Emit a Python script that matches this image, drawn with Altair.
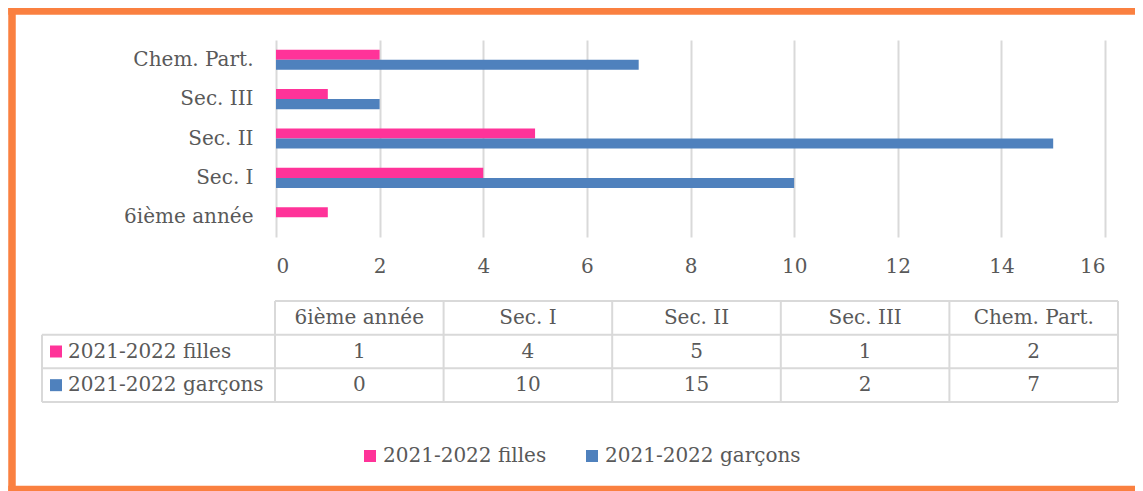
import altair as alt
import pandas as pd

# ---------------- data ----------------
categories = ["6ième année", "Sec. I", "Sec. II", "Sec. III", "Chem. Part."]
series = ["2021-2022 filles", "2021-2022 garçons"]
filles = [1, 4, 5, 1, 2]
garcons = [0, 10, 15, 2, 7]
x_ticks = [0, 2, 4, 6, 8, 10, 12, 14, 16]
colors = ["#FF3399", "#4F81BD"]

# ---------------- style / layout ----------------
FONT = "DejaVu Serif"
FS = 20
TXT = "#595959"
GRID = "#D9D9D9"
ORANGE = "#FA8040"

# plot area (svg coords; page = svg + 8)
PL, PT, PW, PH = 268, 32, 829, 197
SVG_W, SVG_H = 1127, 483

# table layout in pixels relative to plot origin
T_LEFT = -1          # first category column left edge
T_COLW = 168.6       # category column width
T_LAB = -234         # label column left edge
T_TOP, T_BOT = 261, 362
LAB_TXT = -208
LAB_SQ = -220

# frame (relative to plot origin)
FW = 7.5
F_LEFT, F_TOP, F_BOT = -264, -29, 449.5
F_RIGHT = SVG_W - PL


def tx(px):
    return (px - T_LEFT) / T_COLW


bars_df = pd.DataFrame({
    "cat": categories * 2,
    "serie": [series[0]] * len(categories) + [series[1]] * len(categories),
    "val": filles + garcons,
})

color_scale = alt.Scale(domain=series, range=colors)

bars = alt.Chart(bars_df).mark_bar().encode(
    x=alt.X("val:Q", scale=alt.Scale(domain=[0, 16], nice=False),
            axis=alt.Axis(values=x_ticks, grid=True, gridColor=GRID, gridWidth=2,
                          domain=False, ticks=False, tickSize=0, labelPadding=19,
                          labelFont=FONT, labelFontSize=FS, labelColor=TXT, title=None)),
    y=alt.Y("cat:N", sort=categories[::-1],
            scale=alt.Scale(paddingInner=0.49, paddingOuter=0.245),
            axis=alt.Axis(domain=False, ticks=False, tickSize=0, labelPadding=23,
                          labelFont=FONT, labelFontSize=FS, labelColor=TXT, title=None)),
    yOffset=alt.YOffset("serie:N", sort=series),
    color=alt.Color("serie:N", sort=series, scale=color_scale,
                    legend=alt.Legend(orient="none", legendX=84, legendY=406,
                                      direction="horizontal", title=None,
                                      symbolType="square", symbolSize=144,
                                      symbolStrokeWidth=0, labelFont=FONT,
                                      labelFontSize=FS, labelColor=TXT,
                                      columnPadding=35, labelOffset=3, padding=0,
                                      labelLimit=0)),
)

# ---------------- data table ----------------
ncol = len(categories)
xs = alt.Scale(domain=[0, ncol], range=[T_LEFT, T_LEFT + ncol * T_COLW], nice=False, zero=False)
ys = alt.Scale(domain=[0, 3], range=[T_TOP, T_BOT], nice=False, zero=False)

lab = tx(T_LAB)
rule_rows = []
rule_rows.append({"x": 0, "x2": ncol, "y": 0, "y2": 0})
for r in [1, 2, 3]:
    rule_rows.append({"x": lab, "x2": ncol, "y": r, "y2": r})
rule_rows.append({"x": lab, "x2": lab, "y": 1, "y2": 3})
for c in range(ncol + 1):
    rule_rows.append({"x": c, "x2": c, "y": 0, "y2": 3})
rules_df = pd.DataFrame(rule_rows)

rules = alt.Chart(rules_df).mark_rule(color=GRID, strokeWidth=2).encode(
    x=alt.X("x:Q", scale=xs, axis=None),
    x2="x2:Q",
    y=alt.Y("y:Q", scale=ys, axis=None),
    y2="y2:Q",
)

cell_rows = []
for i, c in enumerate(categories):
    cell_rows.append({"cx": i + 0.5, "cy": 0.5, "t": c})
    cell_rows.append({"cx": i + 0.5, "cy": 1.5, "t": str(filles[i])})
    cell_rows.append({"cx": i + 0.5, "cy": 2.5, "t": str(garcons[i])})
cells_df = pd.DataFrame(cell_rows)

cells = alt.Chart(cells_df).mark_text(font=FONT, fontSize=FS, color=TXT,
                                      align="center", baseline="middle").encode(
    x=alt.X("cx:Q", scale=xs, axis=None),
    y=alt.Y("cy:Q", scale=ys, axis=None),
    text="t:N",
)

rowlab_df = pd.DataFrame({"cx": [tx(LAB_TXT)] * 2, "sq": [tx(LAB_SQ)] * 2,
                          "cy": [1.5, 2.5], "serie": series})

rowlabs = alt.Chart(rowlab_df).mark_text(font=FONT, fontSize=FS, color=TXT,
                                         align="left", baseline="middle").encode(
    x=alt.X("cx:Q", scale=xs, axis=None),
    y=alt.Y("cy:Q", scale=ys, axis=None),
    text="serie:N",
)

squares = alt.Chart(rowlab_df).mark_point(shape="square", filled=True, size=144,
                                          opacity=1, strokeWidth=0).encode(
    x=alt.X("sq:Q", scale=xs, axis=None),
    y=alt.Y("cy:Q", scale=ys, axis=None),
    color=alt.Color("serie:N", sort=series, scale=color_scale),
)

# ---------------- orange frame (top, left, bottom edges) ----------------
half = FW / 2
frame_top = alt.Chart(pd.DataFrame({"a": [0]})).mark_rule(
    color=ORANGE, strokeWidth=FW, strokeCap="butt"
).encode(x=alt.value(F_LEFT - half), x2=alt.value(F_RIGHT), y=alt.value(F_TOP))
frame_bot = alt.Chart(pd.DataFrame({"a": [0]})).mark_rule(
    color=ORANGE, strokeWidth=FW, strokeCap="butt"
).encode(x=alt.value(F_LEFT - half), x2=alt.value(F_RIGHT), y=alt.value(F_BOT))
frame_left = alt.Chart(pd.DataFrame({"a": [0]})).mark_rule(
    color=ORANGE, strokeWidth=FW, strokeCap="butt"
).encode(x=alt.value(F_LEFT), y=alt.value(F_TOP - half), y2=alt.value(F_BOT + half))

chart = alt.layer(frame_top, frame_bot, frame_left, bars, rules, cells, rowlabs,
                  squares).resolve_scale(
    x="independent", y="independent"
).properties(
    width=PW, height=PH,
    autosize=alt.AutoSizeParams(type="none"),
    padding={"left": PL, "top": PT, "right": SVG_W - PL - PW, "bottom": SVG_H - PT - PH},
    background="white",
).configure_view(stroke=None)

chart.save("out.html", embed_options={"renderer": "svg", "actions": False})
